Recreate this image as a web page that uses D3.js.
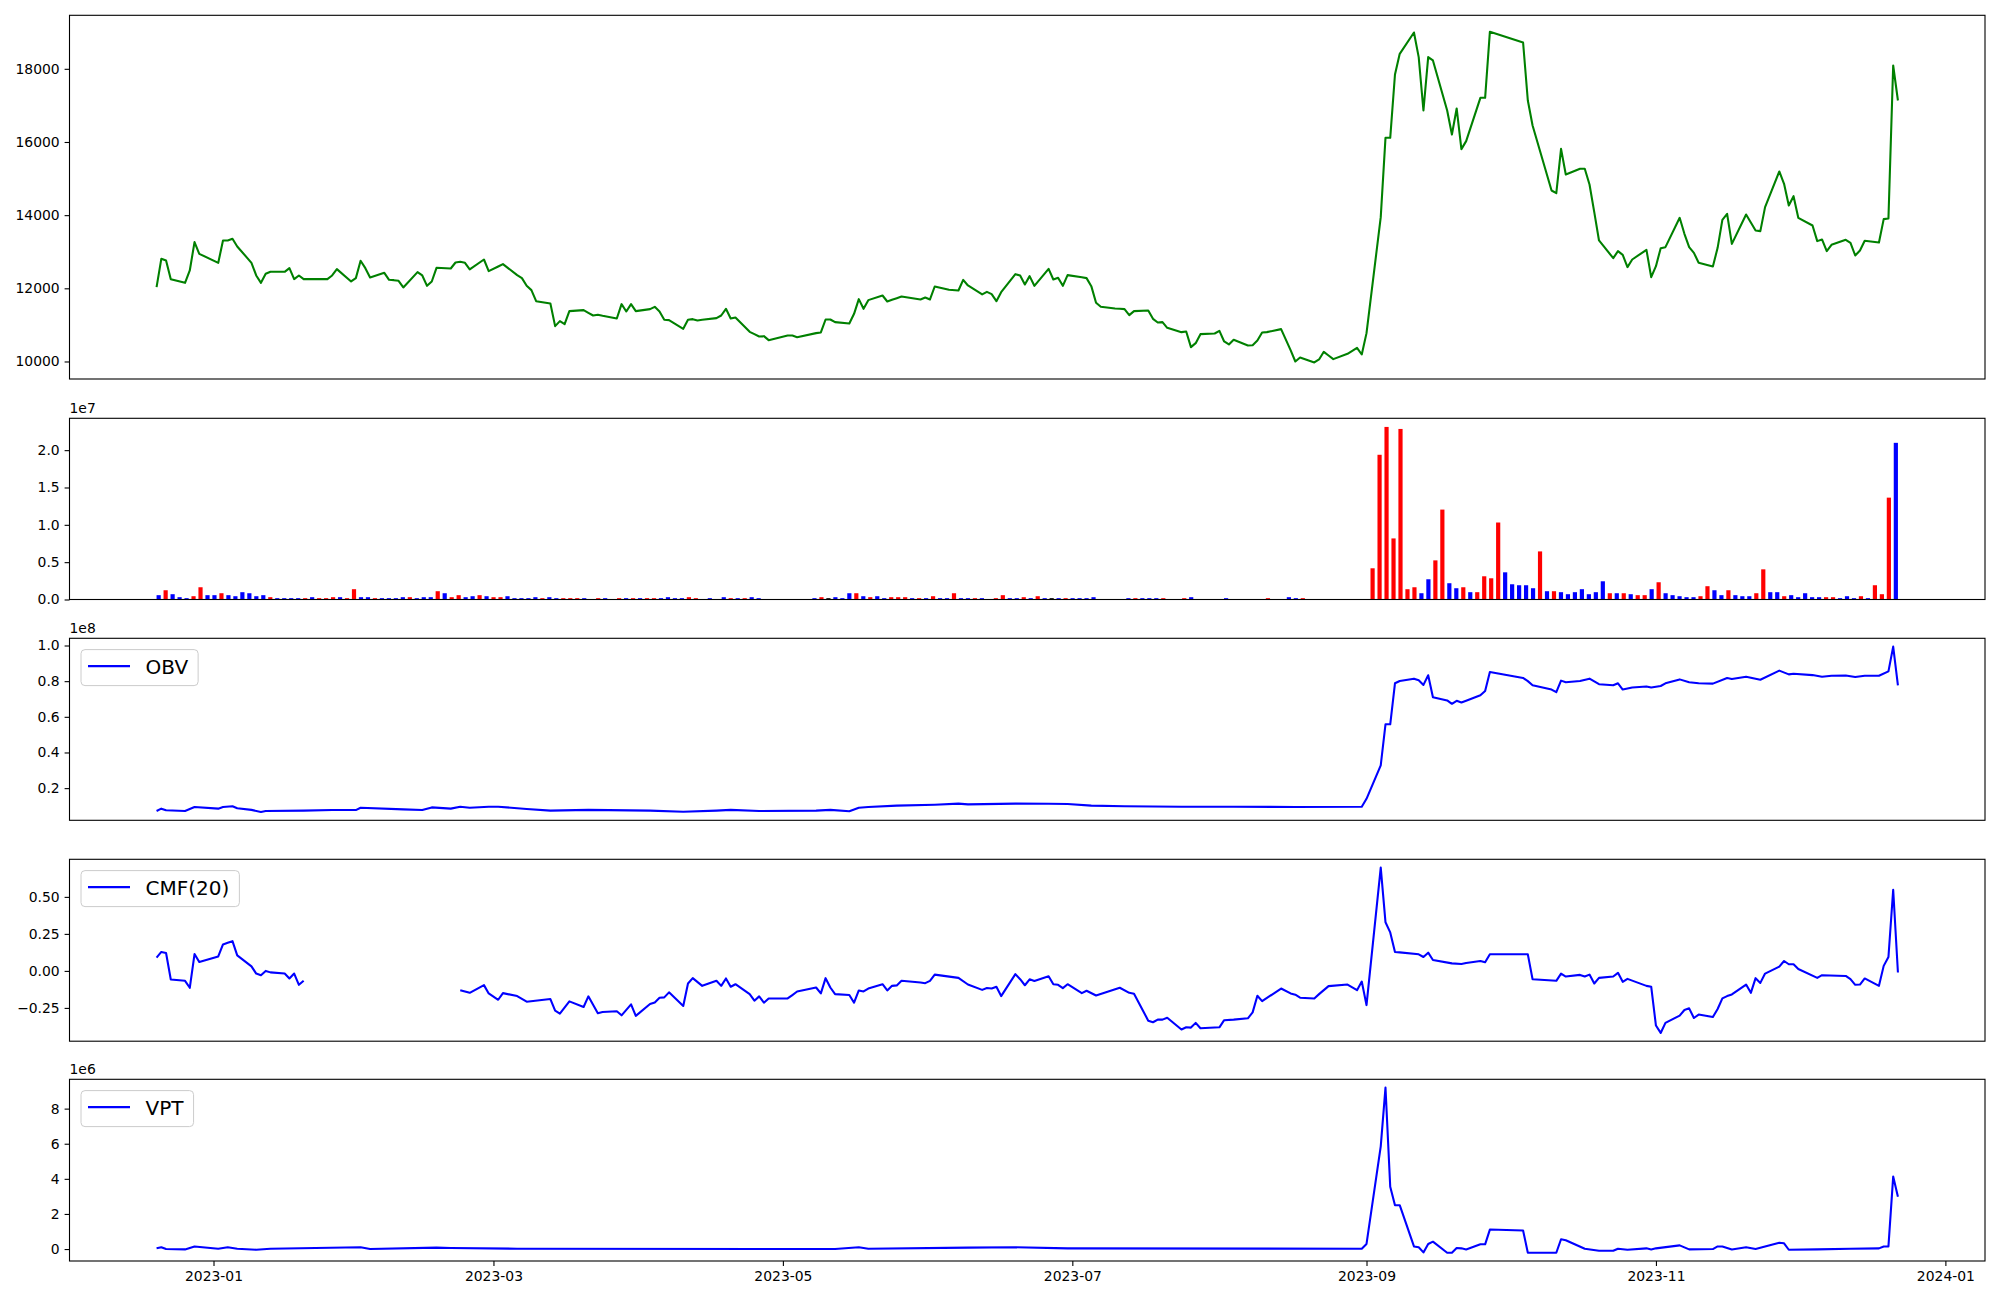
<!DOCTYPE html>
<html><head><meta charset="utf-8">
<script src="https://cdn.jsdelivr.net/npm/d3@7"></script>
<style>body{margin:0;background:#fff}svg{display:block}text{font-family:"DejaVu Sans",sans-serif}</style>
</head><body><svg id="c" width="2000" height="1300"></svg>
<script>
// ---------- DATA ----------
const tradeMonths = [
 ["2022-12",[20,21,22,23,26,27,28,29]],
 ["2023-01",[2,3,4,5,6,9,10,11,12,13,16,17,18,19,20,25,26,27,30,31]],
 ["2023-02",[1,2,3,6,7,8,9,10,13,14,15,16,17,20,21,22,23,24,27,28]],
 ["2023-03",[2,3,6,7,8,9,10,13,14,15,16,17,20,21,22,23,24,27,28,29,30,31]],
 ["2023-04",[3,4,5,6,7,10,11,12,13,14,17,18,19,20,21,24,25,26,27,28]],
 ["2023-05",[2,3,4,8,9,10,11,12,15,16,17,18,19,22,23,24,25,26,30,31]],
 ["2023-06",[1,2,5,7,8,9,12,13,14,15,16,19,20,21,22,23,26,27,28,29,30]],
 ["2023-07",[3,4,5,6,7,10,11,12,13,14,17,18,19,20,21,24,25,26,27,28,31]],
 ["2023-08",[1,2,3,4,7,8,9,10,11,14,16,17,18,21,22,23,24,25,28,29,30,31]],
 ["2023-09",[1,4,5,6,7,8,11,12,13,14,15,18,19,20,21,22,25,26,27]],
 ["2023-10",[4,5,6,10,11,12,13,16,17,18,19,20,23,24,25,26,27,30,31]],
 ["2023-11",[1,2,3,6,7,8,9,10,13,14,15,16,17,20,21,22,23,24,27,28,29,30]],
 ["2023-12",[1,4,5,6,7,8,11,12,13,14,15,18,19,20,21,22]]
];
const closePrices = [
 12032,12806,12761,12251,12150,12488,13262,12943,
 12697,13308,13308,13353,13144,12697,12351,12150,12396,12451,12451,12551,12251,12351,12251,12251,12351,12524,12187,12278,
 12752,12551,12296,12424,12232,12223,12205,12023,12442,12351,12068,12187,12560,12542,12706,12724,12697,12515,12788,12469,
 12597,12661,12360,12278,12068,11950,11649,11586,10966,11103,11021,11376,11403,11330,11257,11276,11248,11175,11567,11367,11567,11376,
 11431,11494,11367,11139,11130,10893,11139,11157,11121,11139,11185,11257,11440,11175,11203,10811,10747,10683,10692,10583,
 10711,10711,10665,10775,10793,11148,11148,11075,11039,11303,11704,11440,11677,11804,11640,11686,11731,11777,11695,11750,
 11695,12050,11959,11941,12232,12078,11832,11904,11841,11649,11895,12387,12351,12105,12333,12068,12533,12242,12287,12068,12360,
 12300,12278,12059,11604,11494,11449,11440,11431,11267,11376,11394,11166,11066,11075,10920,10802,10820,10392,10501,10747,10765,
 10838,10547,10465,10592,10437,10446,10574,10793,10802,10884,10310,10000,10109,9973,10055,10264,10164,10064,10210,10290,10374,10191,
 10775,13945,16114,16114,17845,18410,18993,18319,16861,18319,18228,16861,16205,16916,15804,16023,17207,17207,19011,
 18720,17134,16451,14674,14601,15813,15112,15267,15267,14838,14082,13308,12825,13016,12916,12579,12788,13052,12305,
 12606,13098,13125,13927,13490,13125,12970,12697,12597,13107,13872,14036,13216,14018,13800,13581,13563,14219,15194,14856,14264,14519,
 13927,13718,13290,13335,13016,13189,13326,13244,12897,13034,13298,13253,13891,13909,18091,17134
];
// volume in millions of shares, one bar per trading day
const volumeM = [
 0.58,1.24,0.71,0.31,0.18,0.44,1.64,0.58,0.58,0.84,0.58,0.44,0.98,0.84,0.44,0.58,0.31,0.18,0.18,0.18,
 0.18,0.18,0.31,0.18,0.18,0.31,0.31,0.18,1.38,0.31,0.31,0.18,0.18,0.18,0.18,0.31,0.31,0.18,0.31,0.31,
 1.11,0.84,0.31,0.58,0.31,0.44,0.58,0.44,0.31,0.31,0.44,0.18,0.18,0.18,0.31,0.18,0.31,0.18,0.18,0.18,
 0.18,0.18,0.04,0.18,0.18,0.04,0.18,0.18,0.18,0.18,0.18,0.18,0.18,0.31,0.18,0.18,0.31,0.18,0.04,0.18,
 0.04,0.31,0.18,0.18,0.18,0.31,0.18,0.04,0.04,0.04,0.04,0.04,0.04,0.04,0.18,0.31,0.18,0.31,0.18,0.84,
 0.84,0.44,0.31,0.44,0.18,0.31,0.31,0.31,0.18,0.18,0.18,0.44,0.18,0.18,0.84,0.18,0.18,0.18,0.18,0.04,
 0.18,0.58,0.18,0.18,0.31,0.18,0.44,0.18,0.18,0.18,0.18,0.18,0.18,0.18,0.31,0.04,0.04,0.04,0.04,0.18,
 0.18,0.18,0.18,0.18,0.18,0.04,0.04,0.18,0.31,0.04,0.04,0.04,0.04,0.18,0.04,0.04,0.04,0.04,0.04,0.18,
 0.04,0.04,0.31,0.18,0.18,0.04,0.04,0.04,0.04,0.04,0.04,0.04,0.04,0.04,
 4.18,19.38,23.11,8.18,22.84,1.38,1.64,0.84,2.71,5.24,12.04,2.18,1.51,1.64,0.98,0.98,3.11,2.84,10.31,
 3.64,2.04,1.91,1.91,1.51,6.44,1.11,1.11,0.98,0.71,0.98,1.38,0.71,0.98,2.44,0.84,0.84,0.84,0.71,
 0.58,0.58,1.38,2.31,0.84,0.58,0.44,0.31,0.31,0.44,1.78,1.24,0.58,1.24,0.58,0.44,0.44,0.84,4.04,0.98,0.98,0.44,
 0.58,0.31,0.84,0.31,0.31,0.31,0.31,0.18,0.44,0.18,0.44,0.18,1.91,0.71,13.64,20.98
];
// r = up candle, b = down candle, k = unchanged
const volumeDir = (
 "b r b b b r r b b r b b b b b b r b b b " +
 "b r b r r r b r r b b r b b b b r b b b " +
 "r b r r b b r b r r b b b b b r b b r r " +
 "r b b r b b r b r b r r b b b b r r b b " +
 "b b r b r b b b b b b b b b b r k b b b " +
 "r b r b b r r r b r b r b b r b b r b b " +
 "r r b b r b r b k b r b b b b b b b b b " +
 "r b b b r b b r b b b b b b b b b b b r " +
 "b b b b r b b b b b b b b b " +
 "r r r r r r r b b r r b b r b r r r r " +
 "b b b b b r b r b b b b b b b r b r b " +
 "r r b r b b b b b r r b b r b b b r r b b r " +
 "b b b b b r r b b b r b r r r b").trim().split(/\s+/);

const obvDates = ["2022-12-20","2022-12-21","2022-12-22","2022-12-26","2022-12-28","2023-01-02","2023-01-03","2023-01-05","2023-01-06","2023-01-09","2023-01-11","2023-01-12","2023-01-20","2023-01-26","2023-01-31","2023-02-01","2023-02-10","2023-02-14","2023-02-16","2023-02-20","2023-02-22","2023-02-24","2023-02-28","2023-03-02","2023-03-08","2023-03-13","2023-03-21","2023-04-03","2023-04-10","2023-04-17","2023-04-20","2023-04-26","2023-05-08","2023-05-11","2023-05-15","2023-05-17","2023-05-19","2023-05-25","2023-06-02","2023-06-07","2023-06-09","2023-06-19","2023-06-26","2023-06-30","2023-07-05","2023-07-12","2023-07-24","2023-08-04","2023-08-17","2023-08-31","2023-09-01","2023-09-04","2023-09-05","2023-09-06","2023-09-07","2023-09-08","2023-09-11","2023-09-12","2023-09-13","2023-09-14","2023-09-15","2023-09-18","2023-09-19","2023-09-20","2023-09-21","2023-09-22","2023-09-25","2023-09-26","2023-09-27","2023-10-04","2023-10-05","2023-10-06","2023-10-10","2023-10-11","2023-10-12","2023-10-13","2023-10-16","2023-10-18","2023-10-20","2023-10-23","2023-10-24","2023-10-25","2023-10-27","2023-10-30","2023-10-31","2023-11-02","2023-11-03","2023-11-06","2023-11-08","2023-11-10","2023-11-13","2023-11-16","2023-11-17","2023-11-20","2023-11-23","2023-11-27","2023-11-29","2023-11-30","2023-12-04","2023-12-06","2023-12-08","2023-12-11","2023-12-13","2023-12-15","2023-12-18","2023-12-20","2023-12-21","2023-12-22"];
// OBV in units of 1e8
const obvValues = [0.072,0.085,0.076,0.072,0.094,0.085,0.094,0.098,0.087,0.078,0.066,0.072,0.074,0.077,0.077,0.090,0.081,0.077,0.092,0.085,0.096,0.090,0.096,0.096,0.083,0.074,0.078,0.074,0.068,0.074,0.078,0.072,0.074,0.078,0.070,0.090,0.094,0.102,0.107,0.113,0.109,0.113,0.112,0.111,0.102,0.098,0.096,0.096,0.094,0.096,0.140,0.328,0.558,0.558,0.788,0.801,0.814,0.805,0.779,0.833,0.710,0.692,0.673,0.690,0.680,0.690,0.721,0.745,0.851,0.818,0.800,0.777,0.753,0.738,0.803,0.794,0.801,0.814,0.783,0.777,0.788,0.753,0.764,0.770,0.764,0.773,0.788,0.810,0.794,0.788,0.786,0.818,0.812,0.825,0.808,0.859,0.838,0.842,0.834,0.825,0.830,0.832,0.823,0.830,0.830,0.855,0.994,0.777];

const cmfDates = ["2022-12-20","2022-12-21","2022-12-22","2022-12-23","2022-12-26","2022-12-27","2022-12-28","2022-12-29","2023-01-02","2023-01-03","2023-01-04","2023-01-05","2023-01-06","2023-01-09","2023-01-10","2023-01-11","2023-01-12","2023-01-13","2023-01-16","2023-01-17","2023-01-18","2023-01-19","2023-01-20","2023-01-25","2023-02-22","2023-02-23","2023-02-24","2023-02-27","2023-02-28","2023-03-02","2023-03-03","2023-03-06","2023-03-08","2023-03-13","2023-03-14","2023-03-15","2023-03-17","2023-03-20","2023-03-21","2023-03-23","2023-03-24","2023-03-27","2023-03-28","2023-03-30","2023-03-31","2023-04-03","2023-04-04","2023-04-05","2023-04-06","2023-04-07","2023-04-10","2023-04-11","2023-04-12","2023-04-14","2023-04-17","2023-04-18","2023-04-19","2023-04-20","2023-04-21","2023-04-24","2023-04-25","2023-04-26","2023-04-27","2023-04-28","2023-05-02","2023-05-03","2023-05-04","2023-05-08","2023-05-09","2023-05-10","2023-05-11","2023-05-12","2023-05-15","2023-05-16","2023-05-17","2023-05-18","2023-05-19","2023-05-22","2023-05-23","2023-05-24","2023-05-25","2023-05-26","2023-05-30","2023-05-31","2023-06-01","2023-06-02","2023-06-07","2023-06-09","2023-06-12","2023-06-13","2023-06-14","2023-06-15","2023-06-16","2023-06-19","2023-06-20","2023-06-21","2023-06-22","2023-06-23","2023-06-26","2023-06-27","2023-06-28","2023-06-29","2023-06-30","2023-07-03","2023-07-04","2023-07-06","2023-07-11","2023-07-13","2023-07-14","2023-07-17","2023-07-18","2023-07-19","2023-07-20","2023-07-21","2023-07-24","2023-07-25","2023-07-26","2023-07-27","2023-07-28","2023-08-01","2023-08-02","2023-08-04","2023-08-07","2023-08-08","2023-08-09","2023-08-10","2023-08-14","2023-08-16","2023-08-17","2023-08-18","2023-08-21","2023-08-22","2023-08-24","2023-08-28","2023-08-30","2023-08-31","2023-09-01","2023-09-04","2023-09-05","2023-09-06","2023-09-07","2023-09-08","2023-09-12","2023-09-13","2023-09-14","2023-09-15","2023-09-19","2023-09-21","2023-09-22","2023-09-25","2023-09-26","2023-09-27","2023-10-05","2023-10-06","2023-10-11","2023-10-12","2023-10-13","2023-10-16","2023-10-17","2023-10-18","2023-10-19","2023-10-20","2023-10-23","2023-10-24","2023-10-25","2023-10-26","2023-10-30","2023-10-31","2023-11-01","2023-11-02","2023-11-03","2023-11-06","2023-11-07","2023-11-08","2023-11-09","2023-11-10","2023-11-13","2023-11-14","2023-11-15","2023-11-16","2023-11-17","2023-11-20","2023-11-21","2023-11-22","2023-11-23","2023-11-24","2023-11-27","2023-11-28","2023-11-29","2023-11-30","2023-12-01","2023-12-05","2023-12-06","2023-12-11","2023-12-12","2023-12-13","2023-12-14","2023-12-15","2023-12-18","2023-12-19","2023-12-20","2023-12-21","2023-12-22"];
const cmfValues = [0.090,0.128,0.121,-0.058,-0.067,-0.114,0.114,0.060,0.098,0.179,0.190,0.201,0.105,0.031,-0.018,-0.029,0.000,-0.010,-0.018,-0.051,-0.018,-0.094,-0.067,null,-0.130,-0.139,-0.148,-0.096,-0.152,-0.195,-0.150,-0.170,-0.208,-0.190,-0.269,-0.289,-0.206,-0.244,-0.172,-0.286,-0.278,-0.273,-0.300,-0.226,-0.304,-0.224,-0.213,-0.181,-0.179,-0.145,-0.237,-0.085,-0.049,-0.101,-0.067,-0.101,-0.051,-0.107,-0.090,-0.157,-0.201,-0.172,-0.215,-0.186,-0.186,-0.163,-0.139,-0.112,-0.152,-0.049,-0.112,-0.157,-0.163,-0.215,-0.132,-0.139,-0.119,-0.090,-0.132,-0.101,-0.098,-0.067,-0.078,-0.083,-0.067,-0.025,-0.047,-0.092,-0.128,-0.116,-0.119,-0.107,-0.170,-0.022,-0.056,-0.097,-0.057,-0.068,-0.036,-0.090,-0.094,-0.116,-0.090,-0.150,-0.134,-0.166,-0.114,-0.148,-0.154,-0.336,-0.347,-0.329,-0.329,-0.316,-0.396,-0.381,-0.383,-0.351,-0.387,-0.381,-0.333,-0.329,-0.320,-0.280,-0.168,-0.204,-0.119,-0.152,-0.161,-0.181,-0.186,-0.157,-0.103,-0.092,-0.130,-0.072,-0.231,0.698,0.329,0.260,0.128,0.125,0.112,0.094,0.123,0.074,0.051,0.047,0.054,0.067,0.058,0.112,0.112,-0.056,-0.067,-0.018,-0.038,-0.027,-0.038,-0.025,-0.085,-0.047,-0.038,-0.013,-0.074,-0.054,-0.101,-0.107,-0.369,-0.419,-0.351,-0.302,-0.264,-0.253,-0.318,-0.295,-0.311,-0.257,-0.186,-0.170,-0.159,-0.092,-0.148,-0.049,-0.081,-0.018,0.029,0.067,0.045,0.045,0.013,-0.047,-0.029,-0.034,-0.056,-0.094,-0.092,-0.051,-0.101,0.034,0.094,0.548,-0.011];

const vptDates = ["2022-12-20","2022-12-21","2022-12-22","2022-12-26","2022-12-28","2023-01-02","2023-01-04","2023-01-06","2023-01-10","2023-01-13","2023-02-01","2023-02-03","2023-02-17","2023-02-20","2023-03-06","2023-05-12","2023-05-17","2023-05-19","2023-06-09","2023-06-19","2023-06-30","2023-08-31","2023-09-01","2023-09-04","2023-09-05","2023-09-06","2023-09-07","2023-09-08","2023-09-11","2023-09-12","2023-09-13","2023-09-14","2023-09-15","2023-09-18","2023-09-19","2023-09-20","2023-09-21","2023-09-22","2023-09-25","2023-09-26","2023-09-27","2023-10-04","2023-10-05","2023-10-11","2023-10-12","2023-10-13","2023-10-17","2023-10-20","2023-10-23","2023-10-24","2023-10-26","2023-10-30","2023-10-31","2023-11-01","2023-11-06","2023-11-08","2023-11-13","2023-11-14","2023-11-15","2023-11-17","2023-11-20","2023-11-22","2023-11-27","2023-11-28","2023-11-29","2023-12-05","2023-12-12","2023-12-18","2023-12-19","2023-12-20","2023-12-21","2023-12-22"];
// VPT in units of 1e6
const vptValues = [0.04,0.10,0.00,-0.02,0.15,0.02,0.10,0.02,-0.04,0.02,0.10,0.00,0.08,0.06,0.02,0.00,0.10,0.02,0.08,0.10,0.04,0.02,0.29,5.85,9.20,3.55,2.50,2.50,0.15,0.10,-0.19,0.29,0.42,-0.21,-0.21,0.06,0.04,-0.02,0.27,0.27,1.11,1.06,-0.21,-0.21,0.56,0.50,0.02,-0.10,-0.10,0.02,-0.04,0.04,-0.02,0.04,0.21,-0.02,0.00,0.15,0.15,-0.02,0.10,0.00,0.36,0.33,-0.04,-0.02,0.02,0.04,0.15,0.15,4.13,2.98];

const priceTicks = [10000,12000,14000,16000,18000];
const volumeTicksM = [0,5,10,15,20];
const obvTicks = [0.2,0.4,0.6,0.8,1.0];
const cmfTicks = [-0.25,0,0.25,0.5];
const vptTicks = [0,2,4,6,8];
const xTickDates = ["2023-01-01","2023-03-01","2023-05-01","2023-07-01","2023-09-01","2023-11-01","2024-01-01"];

// ---------- DRAW ----------
const svg = d3.select("#c");
const L = 69.5, R = 1985;
const panels = [{t:15.3,b:379},{t:418.3,b:599.5},{t:638.3,b:820.3},{t:859.3,b:1041.2},{t:1079.3,b:1261}];
const parse = d3.utcParse("%Y-%m-%d");
const tradeDates = tradeMonths.flatMap(([m,ds]) => ds.map(d => parse(m + "-" + String(d).padStart(2,"0"))));
const t0 = +tradeDates[0], t1 = +tradeDates[tradeDates.length-1], span = t1 - t0;
const x = d3.scaleUtc().domain([new Date(t0 - 0.05*span), new Date(t1 + 0.05*span)]).range([L, R]);
const pad = ext => { const r = ext[1]-ext[0]; return [ext[0]-0.05*r, ext[1]+0.05*r]; };
const FS = 13.9, TICK = 4.9;

function yAxis(y, ticks, fmt) {
  const g = svg.append("g").attr("transform", `translate(${L},0)`)
    .call(d3.axisLeft(y).tickValues(ticks).tickFormat(fmt).tickSize(TICK).tickPadding(4.9));
  g.select(".domain").remove();
  g.selectAll("line").attr("stroke","#000").attr("stroke-width",1.1);
  g.selectAll("text").attr("font-size",FS).attr("fill","#000").attr("font-family","DejaVu Sans");
}
function spine(p) {
  svg.append("rect").attr("x",L).attr("y",p.t).attr("width",R-L).attr("height",p.b-p.t)
    .attr("fill","none").attr("stroke","#000").attr("stroke-width",1.1);
}
function offsetText(p, s) {
  svg.append("text").attr("x",L).attr("y",p.t-5).attr("font-size",FS).text(s);
}
function legend(p, label) {
  const g = svg.append("g");
  const bx = 81, by = p.t + 11.3;
  const rect = g.append("rect").attr("x",bx).attr("y",by).attr("height",36).attr("rx",4)
    .attr("fill","#fff").attr("fill-opacity",0.8).attr("stroke","#cccccc").attr("stroke-width",1);
  g.append("line").attr("x1",88).attr("x2",130).attr("y1",by+16.5).attr("y2",by+16.5)
    .attr("stroke","#0000ff").attr("stroke-width",2.08);
  const t = g.append("text").attr("x",145.6).attr("y",by+24).attr("font-size",20).text(label);
  const w = t.node().getComputedTextLength();
  rect.attr("width", 145.6 - bx + w + 10);
}
function drawLine(p, dates, vals, y, color) {
  const data = dates.map((d,i) => ({d: parse(d), v: vals[i]}));
  const line = d3.line().defined(d => d.v != null).x(d => x(d.d)).y(d => y(d.v));
  svg.append("path").datum(data).attr("d", line).attr("fill","none")
    .attr("stroke", color).attr("stroke-width", 2.08).attr("stroke-linejoin","round");
}

// Panel 1: close price
{
  const p = panels[0];
  const y = d3.scaleLinear().domain(pad(d3.extent(closePrices))).range([p.b, p.t]);
  const data = tradeDates.map((d,i) => ({d, v: closePrices[i]}));
  svg.append("path").datum(data)
    .attr("d", d3.line().x(d => x(d.d)).y(d => y(d.v)))
    .attr("fill","none").attr("stroke","#008000").attr("stroke-width",2.08).attr("stroke-linejoin","round");
  yAxis(y, priceTicks, d3.format("d"));
  spine(p);
}
// Panel 2: volume bars (index based x)
{
  const p = panels[1];
  const n = volumeM.length, bw = 0.6;
  const ext = n - 1 + bw;
  const xi = d3.scaleLinear().domain([-bw/2 - 0.05*ext, n - 1 + bw/2 + 0.05*ext]).range([L, R]);
  const y = d3.scaleLinear().domain([0, d3.max(volumeM)*1.05]).range([p.b, p.t]);
  const colorOf = {r:"#ff0000", b:"#0000ff", k:"#000000"};
  const wpx = xi(bw) - xi(0);
  svg.append("g").selectAll("rect").data(volumeM).join("rect")
    .attr("x", (v,i) => xi(i) - wpx/2).attr("width", wpx)
    .attr("y", v => y(v)).attr("height", v => y(0) - y(v))
    .attr("fill", (v,i) => colorOf[volumeDir[i]] || "#0000ff");
  yAxis(y, volumeTicksM, v => (v/10).toFixed(1));
  offsetText(p, "1e7");
  spine(p);
}
// Panel 3: OBV
{
  const p = panels[2];
  const y = d3.scaleLinear().domain(pad(d3.extent(obvValues))).range([p.b, p.t]);
  drawLine(p, obvDates, obvValues, y, "#0000ff");
  yAxis(y, obvTicks, d3.format(".1f"));
  offsetText(p, "1e8");
  spine(p);
  legend(p, "OBV");
}
// Panel 4: CMF
{
  const p = panels[3];
  const y = d3.scaleLinear().domain(pad(d3.extent(cmfValues.filter(v => v != null)))).range([p.b, p.t]);
  drawLine(p, cmfDates, cmfValues, y, "#0000ff");
  yAxis(y, cmfTicks, d3.format(".2f"));
  spine(p);
  legend(p, "CMF(20)");
}
// Panel 5: VPT
{
  const p = panels[4];
  const y = d3.scaleLinear().domain(pad(d3.extent(vptValues))).range([p.b, p.t]);
  drawLine(p, vptDates, vptValues, y, "#0000ff");
  yAxis(y, vptTicks, d3.format("d"));
  offsetText(p, "1e6");
  const g = svg.append("g").attr("transform", `translate(0,${p.b})`)
    .call(d3.axisBottom(x).tickValues(xTickDates.map(parse)).tickFormat(d3.utcFormat("%Y-%m")).tickSize(TICK).tickPadding(4.9));
  g.select(".domain").remove();
  g.selectAll("line").attr("stroke","#000").attr("stroke-width",1.1);
  g.selectAll("text").attr("font-size",FS).attr("fill","#000").attr("font-family","DejaVu Sans");
  spine(p);
  legend(p, "VPT");
}
</script>
</body></html>
